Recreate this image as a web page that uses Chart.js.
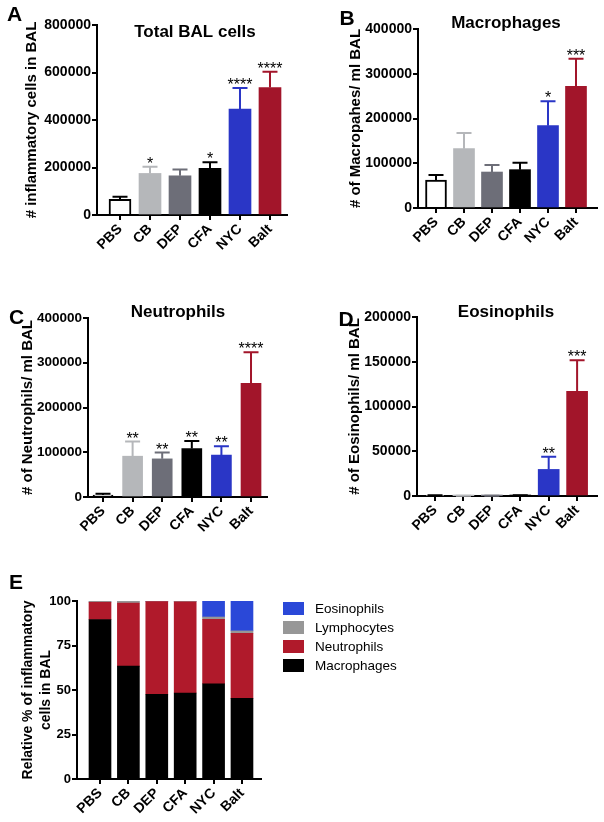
<!DOCTYPE html>
<html><head><meta charset="utf-8">
<script src="https://cdn.jsdelivr.net/npm/chart.js@4.4.1/dist/chart.umd.min.js"></script>
<style>
html,body{margin:0;padding:0;background:#fff;}
body{width:604px;height:822px;position:relative;overflow:hidden;}
canvas{position:absolute;}
</style></head><body>
<canvas id="cA" width="300" height="300" style="left:0;top:0"></canvas>
<canvas id="cB" width="304" height="300" style="left:300px;top:0"></canvas>
<canvas id="cC" width="300" height="270" style="left:0;top:300px"></canvas>
<canvas id="cD" width="304" height="270" style="left:300px;top:300px"></canvas>
<canvas id="cE" width="604" height="252" style="left:0;top:570px"></canvas>
<script>
const categories = ['PBS','CB','DEP','CFA','NYC','Balt'];

const totalMean  = [66000,175000,165000,196000,446000,537000];
const totalSem   = [11000,28000,27000,26000,89000,66000];
const totalStars = ['','*','','*','****','****'];

const macroMean  = [62600,132600,80400,85700,184000,271900];
const macroSem   = [11100,35000,15700,15600,54400,61800];
const macroStars = ['','','','','*','***'];

const neutroMean  = [4500,91200,85200,108400,93500,254200];
const neutroSem   = [3000,32800,14200,16500,20100,69500];
const neutroStars = ['','**','**','**','**','****'];

const eosMean  = [500,300,200,700,29700,117000];
const eosSem   = [200,100,100,200,14200,34700];
const eosStars = ['','','','','**','***'];

const pctMacrophages = [89.6,63.4,47.6,48.3,53.5,45.3];
const pctNeutrophils = [9.7,35.5,52.1,51.3,36.2,36.6];
const pctLymphocytes = [0.7,1.1,0.1,0.3,1.3,1.3];
const pctEosinophils = [0,0,0.2,0.1,9.0,16.8];

const FONT = "'Liberation Sans', Arial, Helvetica, sans-serif";
const barColors = ['#ffffff','#b5b7ba','#6d6e78','#000000','#2a36c6','#a2152a'];
const errColors = ['#000000','#b5b7ba','#6d6e78','#000000','#2a36c6','#a2152a'];

const annot = {
  id: 'annot',
  afterDatasetsDraw(chart, args, o) {
    if (!o.means) return;
    const ctx = chart.ctx, ys = chart.scales.y;
    const meta = chart.getDatasetMeta(0);
    ctx.save();
    meta.data.forEach((bar, i) => {
      const yTop = ys.getPixelForValue(o.means[i] + o.errors[i]);
      ctx.strokeStyle = errColors[i];
      ctx.lineWidth = 2;
      ctx.beginPath();
      ctx.moveTo(bar.x, bar.y);
      ctx.lineTo(bar.x, yTop);
      ctx.moveTo(bar.x - o.cap / 2, yTop);
      ctx.lineTo(bar.x + o.cap / 2, yTop);
      ctx.stroke();
      if (o.stars[i]) {
        ctx.fillStyle = '#000';
        ctx.font = '16px ' + FONT;
        ctx.textAlign = 'center';
        ctx.textBaseline = 'alphabetic';
        ctx.fillText(o.stars[i], bar.x, yTop + 2);
      }
    });
    ctx.restore();
  },
  afterDraw(chart, args, o) {
    const ctx = chart.ctx;
    ctx.save();
    ctx.fillStyle = '#000';
    ctx.textBaseline = 'middle';
    if (o.title) {
      ctx.font = 'bold 17px ' + FONT;
      ctx.textAlign = 'center';
      ctx.fillText(o.title, o.tx, o.ty);
    }
    if (o.letter) {
      ctx.font = 'bold 21px ' + FONT;
      ctx.textAlign = 'center';
      ctx.fillText(o.letter, o.lx, o.ly);
    }
    if (o.legend) {
      const ds = chart.data.datasets.slice().reverse();
      ctx.font = '13.5px ' + FONT;
      ctx.textAlign = 'left';
      ds.forEach((d, k) => {
        const y = o.legend.y + k * o.legend.dy;
        ctx.fillStyle = d.backgroundColor;
        ctx.fillRect(o.legend.x, y, 21, 13);
        ctx.fillStyle = '#000';
        ctx.fillText(d.label, o.legend.x + 32, y + 7);
      });
    }
    ctx.restore();
  }
};

function yScale(max, step, title, width, tickSize, titleFont) {
  return {
    min: 0, max: max,
    stacked: false,
    ticks: { stepSize: step, color: '#000', font: { family: FONT, size: tickSize, weight: 'bold' }, padding: 1, callback: v => String(v) },
    grid: { drawOnChartArea: false, drawTicks: true, tickLength: 5, color: '#000', lineWidth: 2 },
    border: { color: '#000', width: 2 },
    title: { display: true, text: title, color: '#000', font: titleFont || { family: FONT, size: 15, weight: 'bold' }, padding: { top: 4, bottom: 0 } },
    afterFit(s) { s.width = width; }
  };
}
function xScale(min, max, height) {
  return {
    type: 'linear', min: min, max: max, offset: false,
    ticks: { stepSize: 1, includeBounds: false, autoSkip: false, maxRotation: 45, minRotation: 45, color: '#000',
      font: { family: FONT, size: 14, weight: 'bold' }, padding: 1,
      callback: v => (Number.isInteger(v) && categories[v] !== undefined) ? categories[v] : '' },
    grid: { drawOnChartArea: false, drawTicks: true, tickLength: 5, color: '#000', lineWidth: 2, offset: false },
    border: { color: '#000', width: 2 },
    afterFit(s) { s.height = height; }
  };
}

function barPanel(id, p) {
  new Chart(document.getElementById(id), {
    type: 'bar',
    data: {
      datasets: [{
        data: categories.map((c, i) => ({ x: i, y: p.means[i] })),
        backgroundColor: barColors,
        borderColor: '#000',
        borderWidth: [2, 0, 0, 0, 0, 0],
        borderSkipped: 'bottom',
        barThickness: p.barW
      }]
    },
    options: {
      responsive: false, animation: false, devicePixelRatio: 1,
      layout: { padding: { left: p.padL, top: p.padT, right: p.padR, bottom: 0 }, autoPadding: false },
      plugins: {
        legend: { display: false }, tooltip: { enabled: false },
        annot: { means: p.means, errors: p.errors, stars: p.stars, cap: p.cap,
          title: p.title, tx: p.tx, ty: p.ty, letter: p.letter, lx: p.lx, ly: p.ly }
      },
      scales: {
        x: xScale(p.xmin, p.xmax, p.xh),
        y: yScale(p.ymax, p.ystep, p.ytitle, p.yw, p.tick)
      }
    },
    plugins: [annot]
  });
}

barPanel('cA', { means: totalMean, errors: totalSem, stars: totalStars, cap: 15, barW: 22, tick: 14,
  padL: 19, yw: 78, padT: 25, padR: 13, xh: 85, xmin: -0.767, xmax: 5.567,
  ymax: 800000, ystep: 200000, ytitle: '# inflammatory cells in BAL',
  title: 'Total BAL cells', tx: 195, ty: 32, letter: 'A', lx: 14.5, ly: 15.5 });

barPanel('cB', { means: macroMean, errors: macroSem, stars: macroStars, cap: 15, barW: 21, tick: 14,
  padL: 43, yw: 75, padT: 29, padR: 7, xh: 92, xmin: -0.643, xmax: 5.75,
  ymax: 400000, ystep: 100000, ytitle: '# of Macropahes/ ml BAL',
  title: 'Macrophages', tx: 206, ty: 23, letter: 'B', lx: 47, ly: 19 });

barPanel('cC', { means: neutroMean, errors: neutroSem, stars: neutroStars, cap: 15, barW: 20, tick: 13.5,
  padL: 15, yw: 73, padT: 18, padR: 33, xh: 73, xmin: -0.507, xmax: 5.54,
  ymax: 400000, ystep: 100000, ytitle: '# of Neutrophils/ ml BAL',
  title: 'Neutrophils', tx: 178, ty: 12, letter: 'C', lx: 16.5, ly: 18.5 });

barPanel('cD', { means: eosMean, errors: eosSem, stars: eosStars, cap: 15, barW: 21, tick: 14,
  padL: 42, yw: 75, padT: 17, padR: 7, xh: 74, xmin: -0.634, xmax: 5.70,
  ymax: 200000, ystep: 50000, ytitle: '# of Eosinophils/ ml BAL',
  title: 'Eosinophils', tx: 206, ty: 12, letter: 'D', lx: 46, ly: 20 });

// Panel E: stacked percentages
const eSeries = [
  { label: 'Macrophages', values: pctMacrophages, color: '#000000' },
  { label: 'Neutrophils', values: pctNeutrophils, color: '#b01a2b' },
  { label: 'Lymphocytes', values: pctLymphocytes, color: '#979797' },
  { label: 'Eosinophils', values: pctEosinophils, color: '#2a48d8' }
];
new Chart(document.getElementById('cE'), {
  type: 'bar',
  data: {
    datasets: eSeries.map(s => ({
      label: s.label,
      data: categories.map((c, i) => ({ x: i, y: s.values[i] })),
      backgroundColor: s.color, borderWidth: 0, barThickness: 22, stack: 's'
    }))
  },
  options: {
    responsive: false, animation: false, devicePixelRatio: 1,
    layout: { padding: { left: 15, top: 31, right: 343, bottom: 0 }, autoPadding: false },
    plugins: {
      legend: { display: false }, tooltip: { enabled: false },
      annot: { letter: 'E', lx: 16, ly: 13, legend: { x: 283, y: 32, dy: 19 } }
    },
    scales: {
      x: xScale(-0.81, 5.67, 43),
      y: Object.assign(yScale(100, 25, ['Relative % of inflammatory', 'cells in BAL'], 62, 13,
        { family: FONT, size: 14, weight: 'bold', lineHeight: 1.29 }), { stacked: true })
    }
  },
  plugins: [annot]
});
</script>
</body></html>
